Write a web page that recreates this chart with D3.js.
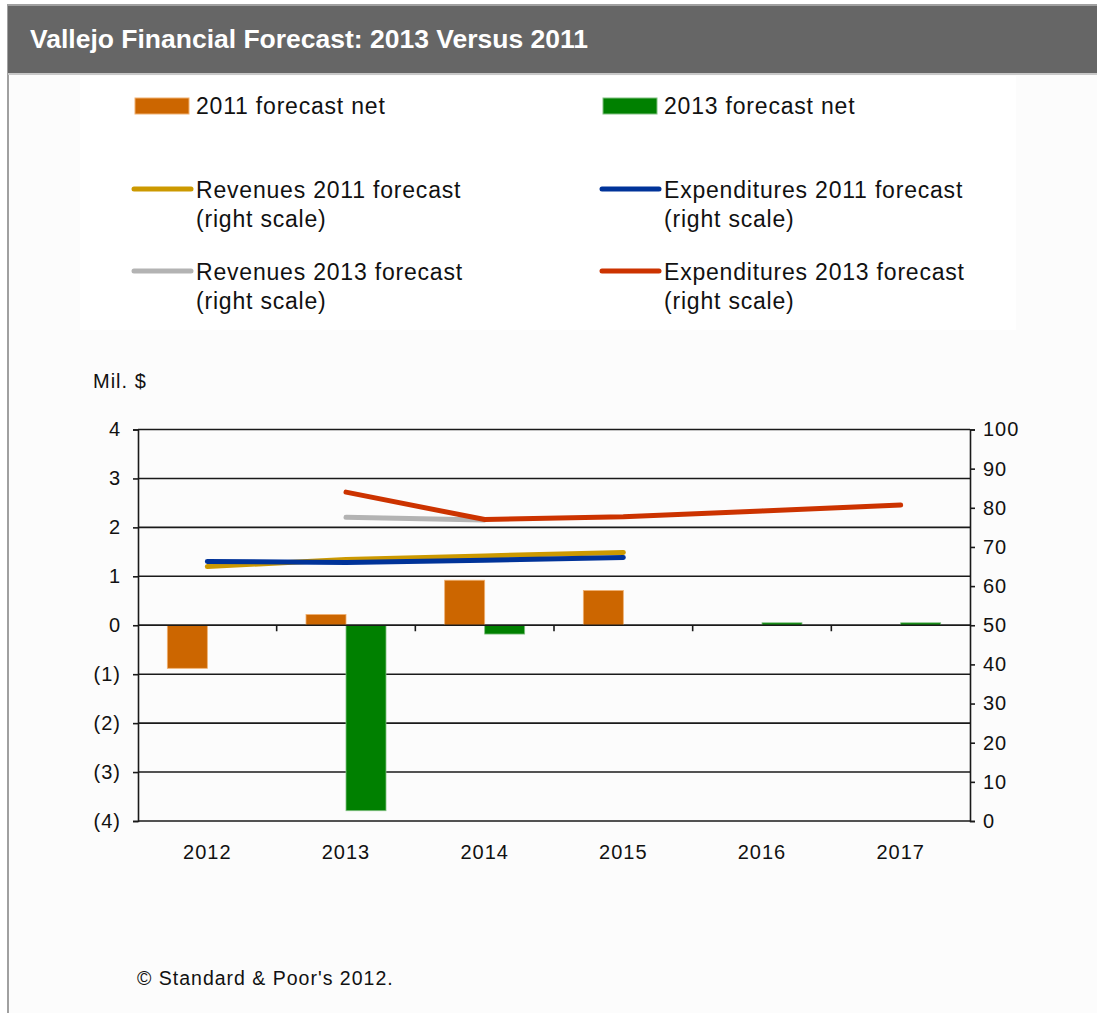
<!DOCTYPE html>
<html>
<head>
<meta charset="utf-8">
<script src="https://cdn.jsdelivr.net/npm/d3@7"></script>
<style>
  body { margin: 0; background: #fff; }
  text { font-family: "Liberation Sans", Arial, sans-serif; fill: #111; }
</style>
</head>
<body>
<div id="chart"></div>
<script>
var years = ["2012", "2013", "2014", "2015", "2016", "2017"];

// net, left scale (mil. $)
var net2011 = [-0.88, 0.22, 0.92, 0.71, null, null];
var net2013 = [null, -3.79, -0.18, null, 0.05, 0.05];

// revenues / expenditures, right scale
var rev2011 = [65.0, 66.8, 67.7, 68.6, null, null];
var exp2011 = [66.3, 66.0, 66.6, 67.3, null, null];
var rev2013 = [null, 77.6, 76.9, null, null, null];
var exp2013 = [null, 84.0, 77.0, 77.7, 79.2, 80.7];

var leftTicks = [-4, -3, -2, -1, 0, 1, 2, 3, 4];
var rightTicks = [0, 10, 20, 30, 40, 50, 60, 70, 80, 90, 100];

var barSeries = [
  { name: "2011 forecast net", values: net2011, color: "#CC6600", edge: "#F0B070" },
  { name: "2013 forecast net", values: net2013, color: "#008000", edge: "#80C080" }
];
var lineSeries = [
  { name: "Revenues 2011 forecast", values: rev2011, color: "#CC9900" },
  { name: "Expenditures 2011 forecast", values: exp2011, color: "#003399" },
  { name: "Revenues 2013 forecast", values: rev2013, color: "#B3B3B3" },
  { name: "Expenditures 2013 forecast", values: exp2013, color: "#CC3300" }
];

var width = 1097, height = 1013;

var svg = d3.select("#chart").append("svg")
            .attr("width", width)
            .attr("height", height);

// page frame
svg.append("rect").attr("x", 0).attr("y", 0).attr("width", width).attr("height", height).attr("fill", "#fff");
svg.append("rect").attr("x", 8).attr("y", 5).attr("width", width + 10).attr("height", height + 10)
   .attr("fill", "#fcfcfc").attr("stroke", "#a0a0a0").attr("stroke-width", 2);
svg.append("rect").attr("x", 8).attr("y", 6).attr("width", width - 8).attr("height", 67).attr("fill", "#666666");
svg.append("line").attr("x1", 8).attr("x2", width).attr("y1", 74).attr("y2", 74).attr("stroke", "#c8c8c8").attr("stroke-width", 2);

svg.append("text")
   .attr("x", 30).attr("y", 48)
   .attr("textLength", 558).attr("lengthAdjust", "spacingAndGlyphs")
   .style("font-size", "25px").style("font-weight", "bold").style("fill", "#fff")
   .text("Vallejo Financial Forecast: 2013 Versus 2011");

// legend panel
svg.append("rect").attr("x", 80).attr("y", 76).attr("width", 936).attr("height", 254).attr("fill", "#fff");

var legendFont = { size: "23px", spacing: "0.8px" };
var colX = [133, 601];

var barLegend = svg.selectAll("g.bar-legend")
                   .data(barSeries)
                   .enter().append("g")
                   .attr("class", "bar-legend");

barLegend.append("rect")
         .attr("x", (d, i) => colX[i] + 2)
         .attr("y", 98)
         .attr("width", 54)
         .attr("height", 16)
         .attr("fill", d => d.color)
         .attr("stroke", d => d.edge)
         .attr("stroke-width", 1);

barLegend.append("text")
         .attr("x", (d, i) => colX[i] + 63)
         .attr("y", 114)
         .style("font-size", legendFont.size)
         .style("letter-spacing", legendFont.spacing)
         .text(d => d.name);

var lineLegend = svg.selectAll("g.line-legend")
                    .data(lineSeries)
                    .enter().append("g")
                    .attr("class", "line-legend")
                    .attr("transform", (d, i) => "translate(" + colX[i % 2] + "," + (189 + Math.floor(i / 2) * 82) + ")");

lineLegend.append("line")
          .attr("x1", 1).attr("x2", 58)
          .attr("y1", 0).attr("y2", 0)
          .attr("stroke", d => d.color)
          .attr("stroke-width", 5)
          .attr("stroke-linecap", "round");

lineLegend.append("text")
          .attr("x", 63).attr("y", 9)
          .style("font-size", legendFont.size)
          .style("letter-spacing", legendFont.spacing)
          .text(d => d.name);

lineLegend.append("text")
          .attr("x", 63).attr("y", 38)
          .style("font-size", legendFont.size)
          .style("letter-spacing", legendFont.spacing)
          .text("(right scale)");

// plot
var plot = { left: 138, right: 970, top: 429.5, bottom: 821 };

var x = d3.scaleBand()
          .domain(years)
          .range([plot.left, plot.right])
          .padding(0);

var xSub = d3.scaleBand()
             .domain([0, 1])
             .range([x.bandwidth() / 2 - 40, x.bandwidth() / 2 + 40]);

var yLeft = d3.scaleLinear().domain([-4, 4]).range([plot.bottom, plot.top]);
var yRight = d3.scaleLinear().domain([0, 100]).range([plot.bottom, plot.top]);

var g = svg.append("g");

// gridlines
g.selectAll("line.grid")
 .data(leftTicks)
 .enter().append("line")
 .attr("class", "grid")
 .attr("x1", plot.left).attr("x2", plot.right)
 .attr("y1", d => yLeft(d)).attr("y2", d => yLeft(d))
 .attr("stroke", "#1a1a1a")
 .attr("stroke-width", 1.6);

// bars
barSeries.forEach((s, si) => {
  g.selectAll("rect.bar" + si)
   .data(years.map((yr, i) => ({ year: yr, v: s.values[i] })).filter(d => d.v !== null))
   .enter().append("rect")
   .attr("class", "bar" + si)
   .attr("x", d => x(d.year) + xSub(si))
   .attr("width", xSub.bandwidth())
   .attr("y", d => yLeft(Math.max(0, d.v)))
   .attr("height", d => Math.abs(yLeft(d.v) - yLeft(0)))
   .attr("fill", s.color)
   .attr("stroke", s.edge)
   .attr("stroke-width", 0.8);
});

// zero line drawn over bars
g.append("line")
 .attr("x1", plot.left).attr("x2", plot.right)
 .attr("y1", yLeft(0)).attr("y2", yLeft(0))
 .attr("stroke", "#1a1a1a").attr("stroke-width", 1.6);

// category ticks on the zero line
g.selectAll("line.xtick")
 .data(years.slice(1))
 .enter().append("line")
 .attr("class", "xtick")
 .attr("x1", d => x(d)).attr("x2", d => x(d))
 .attr("y1", yLeft(0)).attr("y2", yLeft(0) + 6)
 .attr("stroke", "#1a1a1a").attr("stroke-width", 1.6);

// lines
var line = d3.line()
             .defined(d => d.v !== null)
             .x(d => x(d.year) + x.bandwidth() / 2)
             .y(d => yRight(d.v));

g.selectAll("path.series")
 .data(lineSeries)
 .enter().append("path")
 .attr("class", "series")
 .attr("d", s => line(years.map((yr, i) => ({ year: yr, v: s.values[i] }))))
 .attr("fill", "none")
 .attr("stroke", s => s.color)
 .attr("stroke-width", 5)
 .attr("stroke-linecap", "round")
 .attr("stroke-linejoin", "round");

// axes
var leftAxis = g.append("g")
                .attr("transform", "translate(" + plot.left + ",0)")
                .call(d3.axisLeft(yLeft)
                        .tickValues(leftTicks)
                        .tickSize(5)
                        .tickPadding(12)
                        .tickFormat(d => d < 0 ? "(" + (-d) + ")" : d));

var rightAxis = g.append("g")
                 .attr("transform", "translate(" + plot.right + ",0)")
                 .call(d3.axisRight(yRight)
                         .tickValues(rightTicks)
                         .tickSize(5)
                         .tickPadding(8));

[leftAxis, rightAxis].forEach(a => {
  a.select(".domain").attr("stroke", "#1a1a1a").attr("stroke-width", 1.6);
  a.selectAll(".tick line").attr("stroke", "#1a1a1a").attr("stroke-width", 1.6);
  a.selectAll(".tick text")
   .style("font-family", "'Liberation Sans', Arial, sans-serif")
   .style("font-size", "20px")
   .style("letter-spacing", "1px")
   .style("fill", "#111");
});

var bottomAxis = g.append("g")
                  .attr("transform", "translate(0," + (plot.bottom + 24) + ")")
                  .call(d3.axisBottom(x).tickSize(0).tickPadding(0));

bottomAxis.select(".domain").remove();
bottomAxis.selectAll(".tick text")
          .style("font-family", "'Liberation Sans', Arial, sans-serif")
          .style("font-size", "20px")
          .style("letter-spacing", "1px")
          .style("fill", "#111");

svg.append("text")
   .attr("x", 93).attr("y", 388)
   .style("font-size", "20px")
   .style("letter-spacing", "1px")
   .text("Mil. $");

svg.append("text")
   .attr("x", 137).attr("y", 985)
   .style("font-size", "19.5px")
   .style("letter-spacing", "1px")
   .text("\u00A9 Standard & Poor's 2012.");
</script>
</body>
</html>
